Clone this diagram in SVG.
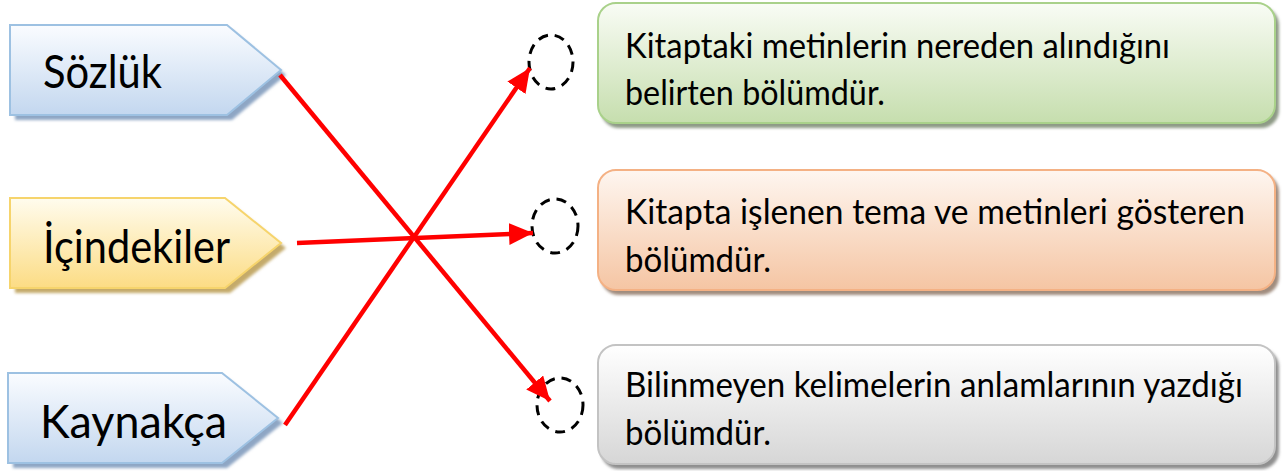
<svg xmlns="http://www.w3.org/2000/svg" width="1285" height="471" viewBox="0 0 1285 471">
<defs>
<linearGradient id="gBlue" x1="0" y1="0" x2="0" y2="1"><stop offset="0" stop-color="#fafcff"/><stop offset="1" stop-color="#c3d7ef"/></linearGradient>
<linearGradient id="gYellow" x1="0" y1="0" x2="0" y2="1"><stop offset="0" stop-color="#fffcee"/><stop offset="1" stop-color="#fcdc84"/></linearGradient>
<linearGradient id="gGreen" x1="0" y1="0" x2="0" y2="1"><stop offset="0" stop-color="#f9fcf5"/><stop offset="1" stop-color="#c6deae"/></linearGradient>
<linearGradient id="gOrange" x1="0" y1="0" x2="0" y2="1"><stop offset="0" stop-color="#fef6f0"/><stop offset="1" stop-color="#f5c5a3"/></linearGradient>
<linearGradient id="gGray" x1="0" y1="0" x2="0" y2="1"><stop offset="0" stop-color="#ffffff"/><stop offset="1" stop-color="#d6d6d6"/></linearGradient>
<filter id="blur" x="-5%" y="-20%" width="110%" height="140%"><feGaussianBlur stdDeviation="1.5"/></filter>
<marker id="arrow" markerUnits="userSpaceOnUse" markerWidth="26" markerHeight="22" refX="24" refY="11" orient="auto"><path d="M0,0 L24,11 L0,22 Z" fill="#ff0000"/></marker>
<clipPath id="c1"><rect x="598" y="0" width="680" height="106"/></clipPath>
<clipPath id="c2"><rect x="598" y="170" width="680" height="104"/></clipPath>
<clipPath id="c3"><rect x="598" y="345" width="680" height="102"/></clipPath>
</defs>
<style>
.lbl{font-family:Lato,"Liberation Sans",sans-serif;font-size:46px;fill:#000}
.txt{font-family:Lato,"Liberation Sans",sans-serif;font-size:35px;fill:#000}
.circ{fill:none;stroke:#000;stroke-width:3;stroke-dasharray:10 7}
.conn{stroke:#ff0000;stroke-width:4.5;fill:none;marker-end:url(#arrow)}
.shadow{filter:url(#blur)}
</style>
<rect width="1285" height="471" fill="#ffffff"/>

<g id="node-sozluk">
<polygon class="shadow" points="15,30 232,30 286,75 232,120 15,120" fill="#8ea6c4"/>
<polygon points="10,25 227,25 281,70 227,115 10,115" fill="url(#gBlue)" stroke="#9dc1e2" stroke-width="2"/>
<text class="lbl" x="43" y="88" textLength="119" lengthAdjust="spacingAndGlyphs">Sözlük</text>
</g>

<g id="node-icindekiler">
<polygon class="shadow" points="15,203 230,203 286,248 230,293 15,293" fill="#c4aa6a"/>
<polygon points="10,198 225,198 281,243 225,288 10,288" fill="url(#gYellow)" stroke="#f6d46c" stroke-width="2"/>
<text class="lbl" x="43" y="263" textLength="187" lengthAdjust="spacingAndGlyphs">İçindekiler</text>
</g>

<g id="node-kaynakca">
<polygon class="shadow" points="13,378 227,378 283,423 227,468 13,468" fill="#8ea6c4"/>
<polygon points="8,373 222,373 278,418 222,463 8,463" fill="url(#gBlue)" stroke="#9dc1e2" stroke-width="2"/>
<text class="lbl" x="40" y="438" textLength="187" lengthAdjust="spacingAndGlyphs">Kaynakça</text>
</g>

<g id="node-def1">
<rect class="shadow" x="601" y="7" width="678" height="121" rx="18" fill="#8e9a86"/>
<rect x="598" y="3" width="677" height="120" rx="18" fill="url(#gGreen)" stroke="#a9d18a" stroke-width="2"/>
<text class="txt" x="625" y="58" textLength="545" lengthAdjust="spacingAndGlyphs">Kitaptaki metinlerin nereden alındığını</text>
<text class="txt" x="625" y="105" textLength="260" lengthAdjust="spacingAndGlyphs" clip-path="url(#c1)">belirten bölümdür.</text>
</g>

<g id="node-def2">
<rect class="shadow" x="601" y="174" width="678" height="121" rx="18" fill="#a08c7e"/>
<rect x="598" y="170" width="677" height="120" rx="18" fill="url(#gOrange)" stroke="#f4b184" stroke-width="2"/>
<text class="txt" x="625" y="224" textLength="620" lengthAdjust="spacingAndGlyphs">Kitapta işlenen tema ve metinleri gösteren</text>
<text class="txt" x="625" y="272" textLength="146" lengthAdjust="spacingAndGlyphs" clip-path="url(#c2)">bölümdür.</text>
</g>

<g id="node-def3">
<rect class="shadow" x="601" y="349" width="678" height="120" rx="18" fill="#8f8f8f"/>
<rect x="598" y="345" width="677" height="119" rx="18" fill="url(#gGray)" stroke="#c3c3c3" stroke-width="2"/>
<text class="txt" x="625" y="397" textLength="618" lengthAdjust="spacingAndGlyphs">Bilinmeyen kelimelerin anlamlarının yazdığı</text>
<text class="txt" x="625" y="445" textLength="146" lengthAdjust="spacingAndGlyphs" clip-path="url(#c3)">bölümdür.</text>
</g>

<g id="targets">
<ellipse class="circ" cx="551" cy="62" rx="22" ry="27"/>
<ellipse class="circ" cx="555" cy="226" rx="23" ry="27"/>
<ellipse class="circ" cx="560" cy="405" rx="23" ry="27"/>
</g>

<g id="connectors">
<line class="conn" x1="280" y1="75" x2="550" y2="401"/>
<line class="conn" x1="297" y1="243" x2="533" y2="233"/>
<line class="conn" x1="285" y1="425" x2="530" y2="68"/>
</g>
</svg>
